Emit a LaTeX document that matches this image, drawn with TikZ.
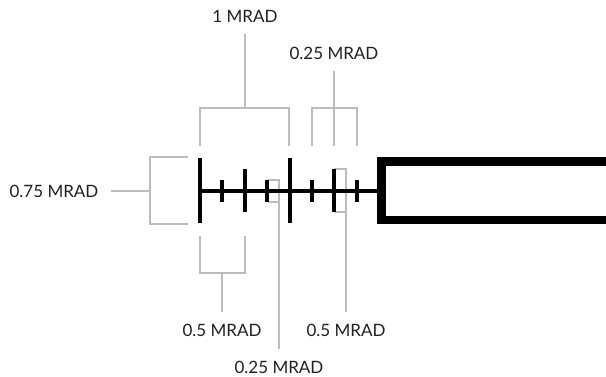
\documentclass[tikz,border=0pt]{standalone}
\usepackage{fontspec}
\setmainfont{Lato}
\usepackage{tikz}
\usetikzlibrary{positioning,calc}
\definecolor{guidegray}{RGB}{188,188,188}
\definecolor{textdark}{RGB}{35,31,32}

\tikzset{
    guide/.style={draw=guidegray, line width=1.1pt},
    reticle/.style={draw=black, line width=4.2pt},
    lbl/.style={font=\fontsize{17}{20}\selectfont, text=textdark, inner sep=12pt, text height=12.5pt, text depth=0pt}
}

\begin{document}
\begin{tikzpicture}[x=1pt, y=-1pt]
    \useasboundingbox (0,0) rectangle (606,377);
    \clip (0,0) rectangle (606,377);

    % Labels
    \node[lbl] (lblOne) at (245,16) {1 MRAD};
    \node[lbl] (lblQuarterTop) at (334,53) {0.25 MRAD};
    \node[lbl] (lblThreeQ) at (54,191) {0.75 MRAD};
    \node[lbl] (lblHalfLeft) at (222,330) {0.5 MRAD};
    \node[lbl] (lblHalfRight) at (346,330) {0.5 MRAD};
    \node[lbl] (lblQuarterBot) at (279,367) {0.25 MRAD};

    % Brackets
    \draw[guide] (188,157) -- (150,157) -- (150,224) -- (188,224);
    \coordinate (midThreeQ) at (150,191);
    \draw[guide] (lblThreeQ) -- (midThreeQ);

    \draw[guide] (200,146) -- (200,108) -- (289,108) -- (289,146);
    \coordinate (midOne) at (245,108);
    \draw[guide] (lblOne) -- (midOne);

    \draw[guide] (312,146) -- (312,108) -- (357,108) -- (357,146);
    \coordinate (midQuarterTop) at (334,146);
    \draw[guide] (lblQuarterTop) -- (midQuarterTop);

    \draw[guide] (200,236) -- (200,273) -- (245,273) -- (245,236);
    \coordinate (midHalfLeft) at (222,273);
    \draw[guide] (lblHalfLeft) -- (midHalfLeft);

    \draw[guide] (268,180) -- (279,180) -- (279,202) -- (268,202);
    \coordinate (midQuarterBot) at (279,191);
    \draw[guide] (lblQuarterBot) -- (midQuarterBot);

    \draw[guide] (334,169) -- (346,169) -- (346,212) -- (334,212);
    \coordinate (midHalfRight) at (346,191);
    \draw[guide] (lblHalfRight) -- (midHalfRight);

    % Reticle
    \draw[reticle] (200,191) -- (382,191);
    \foreach \x in {200,290} \draw[reticle] (\x,158) -- (\x,223);
    \foreach \x in {245,334} \draw[reticle] (\x,169) -- (\x,212);
    \foreach \x in {222,267,312,357} \draw[reticle] (\x,180) -- (\x,202);

    % Post
    \draw[black, line width=8.6pt] (640,161.5) -- (381.5,161.5) -- (381.5,220) -- (640,220);
\end{tikzpicture}
\end{document}
